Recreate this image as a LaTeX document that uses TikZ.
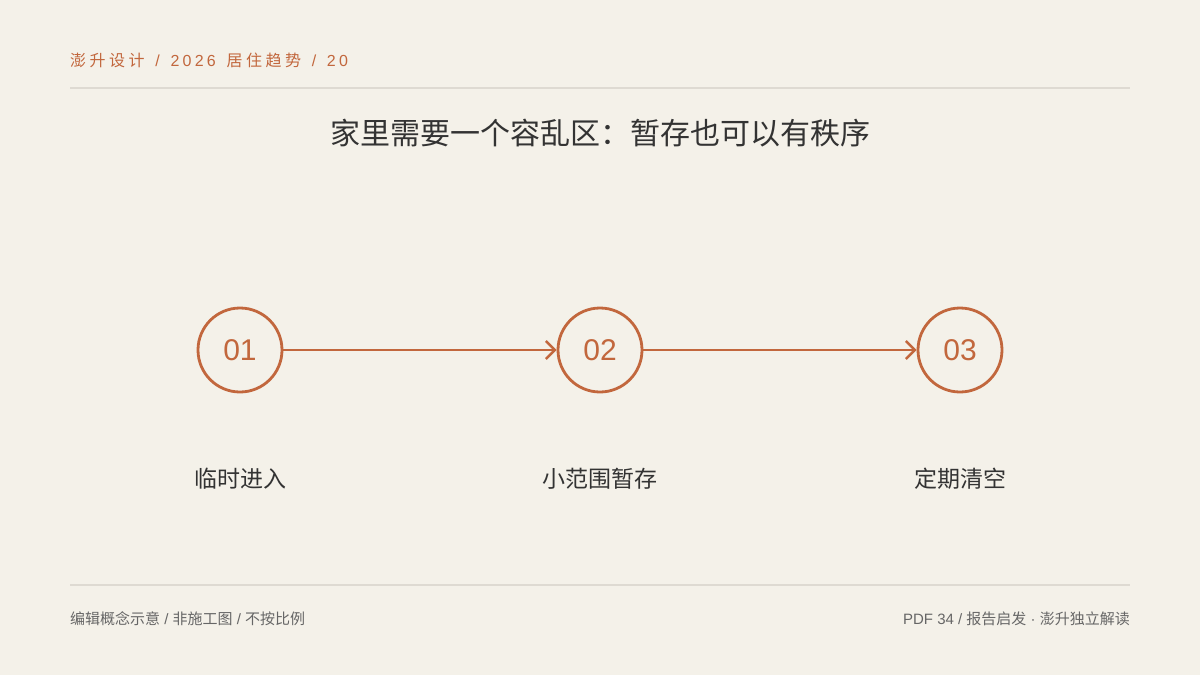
\documentclass[tikz,border=0pt]{standalone}
\usepackage{fontspec}
\setmainfont{Noto Sans CJK SC}
\newfontfamily\cjk{Noto Sans CJK SC}
\newfontfamily\lat{Liberation Sans}
\newfontfamily\cjkspaced[LetterSpace=22]{Noto Sans CJK SC}
\newfontfamily\latspaced[LetterSpace=20,WordSpace=1.4]{Liberation Sans}
\usetikzlibrary{arrows.meta}
\definecolor{bg}{HTML}{F4F1E9}
\definecolor{accent}{HTML}{C2673D}
\definecolor{rulec}{HTML}{DEDAD2}
\definecolor{ink}{HTML}{333333}
\definecolor{muted}{HTML}{666666}
\begin{document}
\begin{tikzpicture}[x=1pt,y=-1pt,
  stepcircle/.style={circle,draw=accent,line width=2.8pt,minimum size=84pt,inner sep=0pt,font=\lat\fontsize{30}{32}\selectfont,text=accent},
  flow/.style={draw=accent,line width=2.6pt,-{Straight Barb[length=9pt,width=18pt,line width=2.4pt]}},
  steplabel/.style={font=\cjk\fontsize{23}{26}\selectfont,text=ink},
  rulel/.style={draw=rulec,line width=1.5pt},
  foot/.style={font=\cjk\fontsize{15}{17}\selectfont,text=muted,inner sep=0pt}]
\fill[bg] (0,0) rectangle (1200,675);
\useasboundingbox (0,0) rectangle (1200,675);
\node[anchor=west,inner sep=0pt,text=accent,font=\fontsize{16}{18}\selectfont] (hdr) at (70,60) {\cjkspaced 澎升设计\latspaced{} / 2026 \cjkspaced 居住趋势\latspaced{} / 20};
\coordinate (r1a) at (70,88); \coordinate (r1b) at (1130,88);
\draw[rulel] (r1a) -- (r1b);
\node[inner sep=0pt,text=ink,font=\cjk\fontsize{30}{34}\selectfont] (title) at (600,133) {家里需要一个容乱区：暂存也可以有秩序};
\node[stepcircle] (c1) at (240,350) {01};
\node[stepcircle] (c2) at (600,350) {02};
\node[stepcircle] (c3) at (960,350) {03};
\draw[flow] (c1) -- (c2);
\draw[flow] (c2) -- (c3);
\node[steplabel] (l1) at (240,479) {临时进入};
\node[steplabel] (l2) at (600,479) {小范围暂存};
\node[steplabel] (l3) at (960,479) {定期清空};
\coordinate (r2a) at (70,585); \coordinate (r2b) at (1130,585);
\draw[rulel] (r2a) -- (r2b);
\node[foot,anchor=west] (fl) at (70,619) {编辑概念示意{\lat\ /\ }非施工图{\lat\ /\ }不按比例};
\node[foot,anchor=east] (fr) at (1130,619) {{\lat PDF 34 / }报告启发{\lat\ ·\ }澎升独立解读};
\end{tikzpicture}
\end{document}
